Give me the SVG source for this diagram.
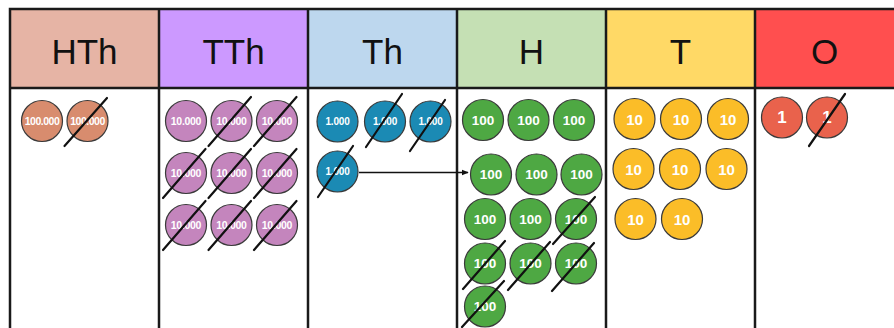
<svg xmlns="http://www.w3.org/2000/svg" width="894" height="328" viewBox="0 0 894 328">
<defs>
<style>
.hd{font-family:"Liberation Sans",Arial,sans-serif;font-size:35px;fill:#111;text-anchor:middle}
.grid{stroke:#1a1a1a;stroke-width:2.5;fill:none}
.c{stroke:#3a3a3a;stroke-width:1.2}
.ct{font-family:"Liberation Sans",Arial,sans-serif;font-weight:bold;fill:#fff;text-anchor:middle;dominant-baseline:central}
.x{stroke:#111;stroke-width:2.2;stroke-linecap:round}
.hth{fill:#D88C6E}.tth{fill:#C485BD}.th{fill:#1B8AB4}.h{fill:#4EA843}.t{fill:#FBBD28}.o{fill:#E9624C}
.s1{font-size:10.5px;letter-spacing:-0.5px}.s2{font-size:10.5px;letter-spacing:-0.3px}.s3{font-size:10px;letter-spacing:-0.2px}.s4{font-size:13.5px}.s5{font-size:15px}.s6{font-size:17px}
</style>
<marker id="ah" viewBox="0 0 10 10" refX="9" refY="5" markerWidth="7" markerHeight="7" orient="auto" markerUnits="userSpaceOnUse">
<path d="M0,1 L10,5 L0,9 Z" fill="#111"/>
</marker>
</defs>
<rect width="894" height="328" fill="#fff"/>
<g id="headers">
<g id="head-HTh"><rect x="10" y="9" width="149" height="79" fill="#E6B4A5"/><text class="hd" x="84.5" y="64">HTh</text></g>
<g id="head-TTh"><rect x="159" y="9" width="149" height="79" fill="#CC99FF"/><text class="hd" x="233.5" y="64">TTh</text></g>
<g id="head-Th"><rect x="308" y="9" width="149" height="79" fill="#BDD7EE"/><text class="hd" x="382.5" y="64">Th</text></g>
<g id="head-H"><rect x="457" y="9" width="149" height="79" fill="#C5E0B4"/><text class="hd" x="531.5" y="64">H</text></g>
<g id="head-T"><rect x="606" y="9" width="149" height="79" fill="#FFD966"/><text class="hd" x="680.5" y="64">T</text></g>
<g id="head-O"><rect x="755" y="9" width="149" height="79" fill="#FF4F4F"/><text class="hd" x="824.5" y="64">O</text></g>
</g>
<g id="grid">
<path class="grid" d="M10,340 V9 H904 M10,88 H904 M159,9 V340 M308,9 V340 M457,9 V340 M606,9 V340 M755,9 V340"/>
</g>
<g id="coins-HTh">
<g id="hth1"><circle class="c hth" cx="42" cy="121" r="20.5"/><text class="ct s1" x="42" y="121">100.000</text></g>
<g id="hth2"><circle class="c hth" cx="87.5" cy="121" r="20.5"/><text class="ct s1" x="87.5" y="121">100.000</text><line class="x" x1="64.5" y1="146" x2="107" y2="98"/></g>
</g>
<g id="coins-TTh">
<g id="tth1"><circle class="c tth" cx="186" cy="121" r="20.5"/><text class="ct s2" x="186" y="121">10.000</text></g>
<g id="tth2"><circle class="c tth" cx="231.5" cy="121" r="20.5"/><text class="ct s2" x="231.5" y="121">10.000</text><line class="x" x1="208.5" y1="146" x2="251" y2="97"/></g>
<g id="tth3"><circle class="c tth" cx="277" cy="121" r="20.5"/><text class="ct s2" x="277" y="121">10.000</text><line class="x" x1="254" y1="146" x2="296.5" y2="97"/></g>
<g id="tth4"><circle class="c tth" cx="186" cy="173" r="20.5"/><text class="ct s2" x="186" y="173">10.000</text><line class="x" x1="163" y1="198" x2="205.5" y2="149"/></g>
<g id="tth5"><circle class="c tth" cx="231.5" cy="173" r="20.5"/><text class="ct s2" x="231.5" y="173">10.000</text><line class="x" x1="208.5" y1="198" x2="251" y2="149"/></g>
<g id="tth6"><circle class="c tth" cx="277" cy="173" r="20.5"/><text class="ct s2" x="277" y="173">10.000</text><line class="x" x1="254" y1="198" x2="296.5" y2="149"/></g>
<g id="tth7"><circle class="c tth" cx="186" cy="225" r="20.5"/><text class="ct s2" x="186" y="225">10.000</text><line class="x" x1="163" y1="250" x2="205.5" y2="201"/></g>
<g id="tth8"><circle class="c tth" cx="231.5" cy="225" r="20.5"/><text class="ct s2" x="231.5" y="225">10.000</text><line class="x" x1="208.5" y1="250" x2="251" y2="201"/></g>
<g id="tth9"><circle class="c tth" cx="277" cy="225" r="20.5"/><text class="ct s2" x="277" y="225">10.000</text><line class="x" x1="254" y1="250" x2="296.5" y2="201"/></g>
</g>
<g id="coins-Th">
<g id="th1"><circle class="c th" cx="337.5" cy="121.5" r="20.5"/><text class="ct s3" x="337.5" y="121.5">1.000</text></g>
<g id="th2"><circle class="c th" cx="385" cy="121.5" r="20.5"/><text class="ct s3" x="385" y="121.5">1.000</text><line class="x" x1="366" y1="147" x2="402" y2="94"/></g>
<g id="th3"><circle class="c th" cx="430.5" cy="121.5" r="20.5"/><text class="ct s3" x="430.5" y="121.5">1.000</text><line class="x" x1="410" y1="151" x2="445" y2="100"/></g>
<g id="th4"><circle class="c th" cx="337.5" cy="171.5" r="20.5"/><text class="ct s3" x="337.5" y="171.5">1.000</text><line class="x" x1="318" y1="197" x2="353" y2="146"/></g>
</g>
<g id="coins-H">
<g id="h1"><circle class="c h" cx="483" cy="120" r="20.5"/><text class="ct s4" x="483" y="120">100</text></g>
<g id="h2"><circle class="c h" cx="528.5" cy="120" r="20.5"/><text class="ct s4" x="528.5" y="120">100</text></g>
<g id="h3"><circle class="c h" cx="574" cy="120" r="20.5"/><text class="ct s4" x="574" y="120">100</text></g>
<g id="h4"><circle class="c h" cx="491" cy="174.5" r="20.5"/><text class="ct s4" x="491" y="174.5">100</text></g>
<g id="h5"><circle class="c h" cx="536.5" cy="174.5" r="20.5"/><text class="ct s4" x="536.5" y="174.5">100</text></g>
<g id="h6"><circle class="c h" cx="581.5" cy="174.5" r="20.5"/><text class="ct s4" x="581.5" y="174.5">100</text></g>
<g id="h7"><circle class="c h" cx="485" cy="219" r="20.5"/><text class="ct s4" x="485" y="219">100</text></g>
<g id="h8"><circle class="c h" cx="530.5" cy="219" r="20.5"/><text class="ct s4" x="530.5" y="219">100</text></g>
<g id="h9"><circle class="c h" cx="576" cy="219" r="20.5"/><text class="ct s4" x="576" y="219">100</text><line class="x" x1="553" y1="244" x2="595" y2="197"/></g>
<g id="h10"><circle class="c h" cx="485" cy="263.5" r="20.5"/><text class="ct s4" x="485" y="263.5">100</text><line class="x" x1="463" y1="289" x2="505" y2="241"/></g>
<g id="h11"><circle class="c h" cx="530.5" cy="263.5" r="20.5"/><text class="ct s4" x="530.5" y="263.5">100</text><line class="x" x1="508" y1="290" x2="550" y2="242"/></g>
<g id="h12"><circle class="c h" cx="576" cy="263.5" r="20.5"/><text class="ct s4" x="576" y="263.5">100</text><line class="x" x1="552" y1="291" x2="594" y2="243"/></g>
<g id="h13"><circle class="c h" cx="485" cy="306.5" r="20.5"/><text class="ct s4" x="485" y="306.5">100</text><line class="x" x1="462" y1="327" x2="504" y2="281"/></g>
</g>
<g id="coins-T">
<g id="t1"><circle class="c t" cx="634.5" cy="119" r="20.5"/><text class="ct s5" x="634.5" y="119">10</text></g>
<g id="t2"><circle class="c t" cx="681" cy="119" r="20.5"/><text class="ct s5" x="681" y="119">10</text></g>
<g id="t3"><circle class="c t" cx="728" cy="119" r="20.5"/><text class="ct s5" x="728" y="119">10</text></g>
<g id="t4"><circle class="c t" cx="633.5" cy="169" r="20.5"/><text class="ct s5" x="633.5" y="169">10</text></g>
<g id="t5"><circle class="c t" cx="680" cy="169" r="20.5"/><text class="ct s5" x="680" y="169">10</text></g>
<g id="t6"><circle class="c t" cx="726.5" cy="169" r="20.5"/><text class="ct s5" x="726.5" y="169">10</text></g>
<g id="t7"><circle class="c t" cx="635.5" cy="219" r="20.5"/><text class="ct s5" x="635.5" y="219">10</text></g>
<g id="t8"><circle class="c t" cx="682" cy="219" r="20.5"/><text class="ct s5" x="682" y="219">10</text></g>
</g>
<g id="coins-O">
<g id="o1"><circle class="c o" cx="782" cy="117.5" r="20.5"/><text class="ct s6" x="782" y="117.5">1</text></g>
<g id="o2"><circle class="c o" cx="827" cy="117.5" r="20.5"/><text class="ct s6" x="827" y="117.5">1</text><line class="x" x1="809" y1="146" x2="845" y2="94"/></g>
</g>
<g id="connectors">
<line x1="359" y1="172.5" x2="468" y2="172.5" stroke="#111" stroke-width="1.5" marker-end="url(#ah)"/>
</g>
</svg>
